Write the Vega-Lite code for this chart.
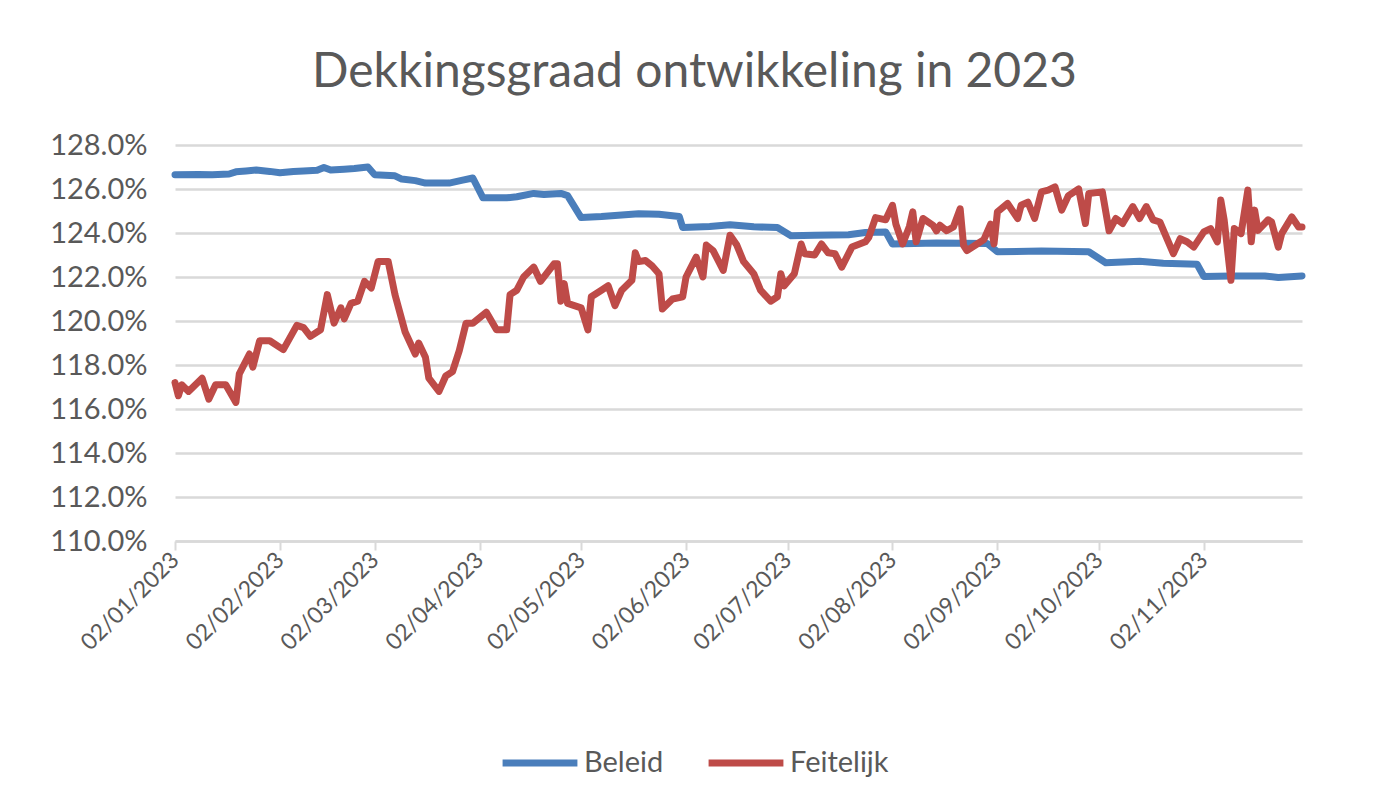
{
"$schema":"https://vega.github.io/schema/vega-lite/v6.json",
"width":1127,"height":396,
"autosize":{"type":"none"},
"padding":{"left":175,"top":145,"right":81,"bottom":271},
"background":"white",
"title":{"text":"Dekkingsgraad ontwikkeling in 2023","font":"Lato","fontSize":48,"fontWeight":"normal","color":"#595959","anchor":"middle","offset":34,"dx":-44},
"datasets":{
"beleid":[
{"d":"2023-01-02","v":126.65},{"d":"2023-01-09","v":126.66},{"d":"2023-01-13","v":126.65},{"d":"2023-01-18","v":126.68},{"d":"2023-01-20","v":126.78},{"d":"2023-01-23","v":126.82},{"d":"2023-01-26","v":126.86},{"d":"2023-01-30","v":126.8},{"d":"2023-02-02","v":126.74},{"d":"2023-02-06","v":126.8},{"d":"2023-02-09","v":126.82},{"d":"2023-02-13","v":126.85},{"d":"2023-02-15","v":126.98},{"d":"2023-02-17","v":126.86},{"d":"2023-02-21","v":126.9},{"d":"2023-02-24","v":126.93},{"d":"2023-02-28","v":127.0},{"d":"2023-03-02","v":126.65},{"d":"2023-03-08","v":126.6},{"d":"2023-03-10","v":126.45},{"d":"2023-03-14","v":126.38},{"d":"2023-03-17","v":126.27},{"d":"2023-03-24","v":126.27},{"d":"2023-03-28","v":126.4},{"d":"2023-03-31","v":126.5},{"d":"2023-04-03","v":125.6},{"d":"2023-04-10","v":125.6},{"d":"2023-04-13","v":125.65},{"d":"2023-04-18","v":125.8},{"d":"2023-04-21","v":125.75},{"d":"2023-04-26","v":125.8},{"d":"2023-04-28","v":125.7},{"d":"2023-05-02","v":124.7},{"d":"2023-05-08","v":124.75},{"d":"2023-05-12","v":124.8},{"d":"2023-05-19","v":124.88},{"d":"2023-05-25","v":124.85},{"d":"2023-05-31","v":124.75},{"d":"2023-06-01","v":124.25},{"d":"2023-06-09","v":124.3},{"d":"2023-06-15","v":124.38},{"d":"2023-06-22","v":124.28},{"d":"2023-06-29","v":124.25},{"d":"2023-07-03","v":123.88},{"d":"2023-07-10","v":123.9},{"d":"2023-07-20","v":123.92},{"d":"2023-07-25","v":124.02},{"d":"2023-07-31","v":124.05},{"d":"2023-08-02","v":123.5},{"d":"2023-08-15","v":123.55},{"d":"2023-08-30","v":123.52},{"d":"2023-09-02","v":123.15},{"d":"2023-09-15","v":123.18},{"d":"2023-09-29","v":123.15},{"d":"2023-10-04","v":122.65},{"d":"2023-10-14","v":122.72},{"d":"2023-10-21","v":122.62},{"d":"2023-10-31","v":122.58},{"d":"2023-11-02","v":122.02},{"d":"2023-11-10","v":122.05},{"d":"2023-11-20","v":122.05},{"d":"2023-11-24","v":121.98},{"d":"2023-12-01","v":122.05}
],
"feitelijk":[
{"d":"2023-01-02","v":117.2},{"d":"2023-01-03","v":116.6},{"d":"2023-01-04","v":117.1},{"d":"2023-01-06","v":116.8},{"d":"2023-01-10","v":117.4},{"d":"2023-01-12","v":116.45},{"d":"2023-01-14","v":117.1},{"d":"2023-01-17","v":117.1},{"d":"2023-01-20","v":116.3},{"d":"2023-01-21","v":117.6},{"d":"2023-01-24","v":118.5},{"d":"2023-01-25","v":117.9},{"d":"2023-01-27","v":119.1},{"d":"2023-01-30","v":119.1},{"d":"2023-02-03","v":118.7},{"d":"2023-02-07","v":119.8},{"d":"2023-02-09","v":119.7},{"d":"2023-02-11","v":119.3},{"d":"2023-02-14","v":119.6},{"d":"2023-02-16","v":121.2},{"d":"2023-02-18","v":119.9},{"d":"2023-02-20","v":120.6},{"d":"2023-02-21","v":120.1},{"d":"2023-02-23","v":120.8},{"d":"2023-02-25","v":120.9},{"d":"2023-02-27","v":121.8},{"d":"2023-03-01","v":121.5},{"d":"2023-03-03","v":122.7},{"d":"2023-03-06","v":122.7},{"d":"2023-03-08","v":121.2},{"d":"2023-03-11","v":119.5},{"d":"2023-03-14","v":118.5},{"d":"2023-03-15","v":119.0},{"d":"2023-03-17","v":118.35},{"d":"2023-03-18","v":117.4},{"d":"2023-03-21","v":116.8},{"d":"2023-03-23","v":117.5},{"d":"2023-03-25","v":117.7},{"d":"2023-03-27","v":118.65},{"d":"2023-03-29","v":119.9},{"d":"2023-03-31","v":119.9},{"d":"2023-04-04","v":120.4},{"d":"2023-04-07","v":119.6},{"d":"2023-04-10","v":119.6},{"d":"2023-04-11","v":121.2},{"d":"2023-04-13","v":121.4},{"d":"2023-04-15","v":122.0},{"d":"2023-04-18","v":122.45},{"d":"2023-04-20","v":121.8},{"d":"2023-04-24","v":122.6},{"d":"2023-04-25","v":122.6},{"d":"2023-04-26","v":120.9},{"d":"2023-04-27","v":121.7},{"d":"2023-04-28","v":120.8},{"d":"2023-04-30","v":120.7},{"d":"2023-05-02","v":120.6},{"d":"2023-05-04","v":119.6},{"d":"2023-05-05","v":121.1},{"d":"2023-05-08","v":121.4},{"d":"2023-05-10","v":121.6},{"d":"2023-05-12","v":120.7},{"d":"2023-05-14","v":121.4},{"d":"2023-05-17","v":121.85},{"d":"2023-05-18","v":123.1},{"d":"2023-05-19","v":122.7},{"d":"2023-05-21","v":122.75},{"d":"2023-05-23","v":122.5},{"d":"2023-05-25","v":122.15},{"d":"2023-05-26","v":120.55},{"d":"2023-05-29","v":121.0},{"d":"2023-06-01","v":121.1},{"d":"2023-06-02","v":122.0},{"d":"2023-06-05","v":122.9},{"d":"2023-06-07","v":122.0},{"d":"2023-06-08","v":123.45},{"d":"2023-06-10","v":123.2},{"d":"2023-06-13","v":122.3},{"d":"2023-06-15","v":123.9},{"d":"2023-06-17","v":123.45},{"d":"2023-06-19","v":122.7},{"d":"2023-06-22","v":122.15},{"d":"2023-06-24","v":121.4},{"d":"2023-06-27","v":120.9},{"d":"2023-06-29","v":121.1},{"d":"2023-06-30","v":122.15},{"d":"2023-07-01","v":121.6},{"d":"2023-07-04","v":122.15},{"d":"2023-07-06","v":123.5},{"d":"2023-07-07","v":123.06},{"d":"2023-07-10","v":123.0},{"d":"2023-07-12","v":123.5},{"d":"2023-07-14","v":123.1},{"d":"2023-07-16","v":123.06},{"d":"2023-07-18","v":122.45},{"d":"2023-07-21","v":123.36},{"d":"2023-07-25","v":123.6},{"d":"2023-07-26","v":123.8},{"d":"2023-07-28","v":124.7},{"d":"2023-07-31","v":124.6},{"d":"2023-08-02","v":125.26},{"d":"2023-08-03","v":124.4},{"d":"2023-08-05","v":123.5},{"d":"2023-08-07","v":124.3},{"d":"2023-08-08","v":124.96},{"d":"2023-08-09","v":123.6},{"d":"2023-08-11","v":124.66},{"d":"2023-08-14","v":124.35},{"d":"2023-08-15","v":124.1},{"d":"2023-08-16","v":124.35},{"d":"2023-08-18","v":124.1},{"d":"2023-08-20","v":124.27},{"d":"2023-08-22","v":125.1},{"d":"2023-08-23","v":123.44},{"d":"2023-08-24","v":123.2},{"d":"2023-08-27","v":123.5},{"d":"2023-08-29","v":123.7},{"d":"2023-08-31","v":124.4},{"d":"2023-09-01","v":123.5},{"d":"2023-09-02","v":124.96},{"d":"2023-09-05","v":125.34},{"d":"2023-09-08","v":124.66},{"d":"2023-09-09","v":125.26},{"d":"2023-09-11","v":125.4},{"d":"2023-09-13","v":124.66},{"d":"2023-09-15","v":125.87},{"d":"2023-09-17","v":125.95},{"d":"2023-09-19","v":126.1},{"d":"2023-09-21","v":125.04},{"d":"2023-09-23","v":125.7},{"d":"2023-09-26","v":126.0},{"d":"2023-09-28","v":124.43},{"d":"2023-09-29","v":125.8},{"d":"2023-10-03","v":125.87},{"d":"2023-10-05","v":124.1},{"d":"2023-10-07","v":124.66},{"d":"2023-10-09","v":124.43},{"d":"2023-10-12","v":125.2},{"d":"2023-10-14","v":124.66},{"d":"2023-10-16","v":125.2},{"d":"2023-10-18","v":124.6},{"d":"2023-10-20","v":124.5},{"d":"2023-10-24","v":123.06},{"d":"2023-10-26","v":123.74},{"d":"2023-10-28","v":123.6},{"d":"2023-10-30","v":123.36},{"d":"2023-11-02","v":124.05},{"d":"2023-11-04","v":124.2},{"d":"2023-11-06","v":123.6},{"d":"2023-11-07","v":125.5},{"d":"2023-11-08","v":124.6},{"d":"2023-11-10","v":121.85},{"d":"2023-11-11","v":124.2},{"d":"2023-11-13","v":123.97},{"d":"2023-11-15","v":125.95},{"d":"2023-11-16","v":123.6},{"d":"2023-11-17","v":125.04},{"d":"2023-11-18","v":124.12},{"d":"2023-11-21","v":124.6},{"d":"2023-11-22","v":124.5},{"d":"2023-11-24","v":123.36},{"d":"2023-11-25","v":123.97},{"d":"2023-11-28","v":124.73},{"d":"2023-11-30","v":124.27},{"d":"2023-12-01","v":124.27}
]
},
"layer":[
{"data":{"name":"beleid","format":{"parse":{"d":"date:'%Y-%m-%d'"}}},
 "transform":[{"calculate":"'Beleid'","as":"s"}],
 "mark":{"type":"line","strokeWidth":7,"strokeJoin":"round","strokeCap":"round"},
 "encoding":{
  "x":{"field":"d","type":"temporal"},
  "y":{"field":"v","type":"quantitative"},
  "color":{"field":"s","type":"nominal"}
 }},
{"data":{"name":"feitelijk","format":{"parse":{"d":"date:'%Y-%m-%d'"}}},
 "transform":[{"calculate":"'Feitelijk'","as":"s"}],
 "mark":{"type":"line","strokeWidth":7,"strokeJoin":"round","strokeCap":"round"},
 "encoding":{
  "x":{"field":"d","type":"temporal"},
  "y":{"field":"v","type":"quantitative"},
  "color":{"field":"s","type":"nominal"}
 }}
],
"resolve":{"scale":{"x":"shared","y":"shared","color":"shared"}},
"encoding":{
 "x":{"field":"d","type":"temporal",
  "scale":{"domain":[{"year":2023,"month":1,"date":2},{"year":2023,"month":12,"date":1}]},
  "axis":{"title":null,"grid":false,
   "values":[{"year":2023,"month":1,"date":2},{"year":2023,"month":2,"date":2},{"year":2023,"month":3,"date":2},{"year":2023,"month":4,"date":2},{"year":2023,"month":5,"date":2},{"year":2023,"month":6,"date":2},{"year":2023,"month":7,"date":2},{"year":2023,"month":8,"date":2},{"year":2023,"month":9,"date":2},{"year":2023,"month":10,"date":2},{"year":2023,"month":11,"date":2}],
   "format":"%d/%m/%Y","labelAngle":-45,"labelAlign":"right","labelBaseline":"middle","labelPadding":6,"labelDy":10,
   "labelFont":"Lato","labelFontSize":23,"labelColor":"#595959","labelOverlap":false,"labelFlush":false,
   "domainColor":"#d9d9d9","domainWidth":2.5,"tickColor":"#d9d9d9","tickWidth":2,"tickSize":9}},
 "y":{"field":"v","type":"quantitative",
  "scale":{"domain":[110,128],"nice":false,"zero":false},
  "axis":{"title":null,"values":[110,112,114,116,118,120,122,124,126,128],
   "labelExpr":"format(datum.value,'.1f')+'%'","domain":false,"ticks":false,
   "gridColor":"#d9d9d9","gridWidth":2.5,"labelPadding":28,
   "labelFont":"Lato","labelFontSize":29,"labelColor":"#595959"}},
 "color":{"field":"s","type":"nominal",
  "scale":{"domain":["Beleid","Feitelijk"],"range":["#4A7EBB","#BE4B48"]},
  "legend":{"orient":"none","legendX":324,"legendY":577,"direction":"horizontal","title":null,
   "symbolType":"stroke","symbolSize":5600,"symbolStrokeWidth":7,
   "labelFont":"Lato","labelFontSize":29,"labelColor":"#595959","labelOffset":3,"columnPadding":30}}
},
"config":{"view":{"stroke":null}}
}
